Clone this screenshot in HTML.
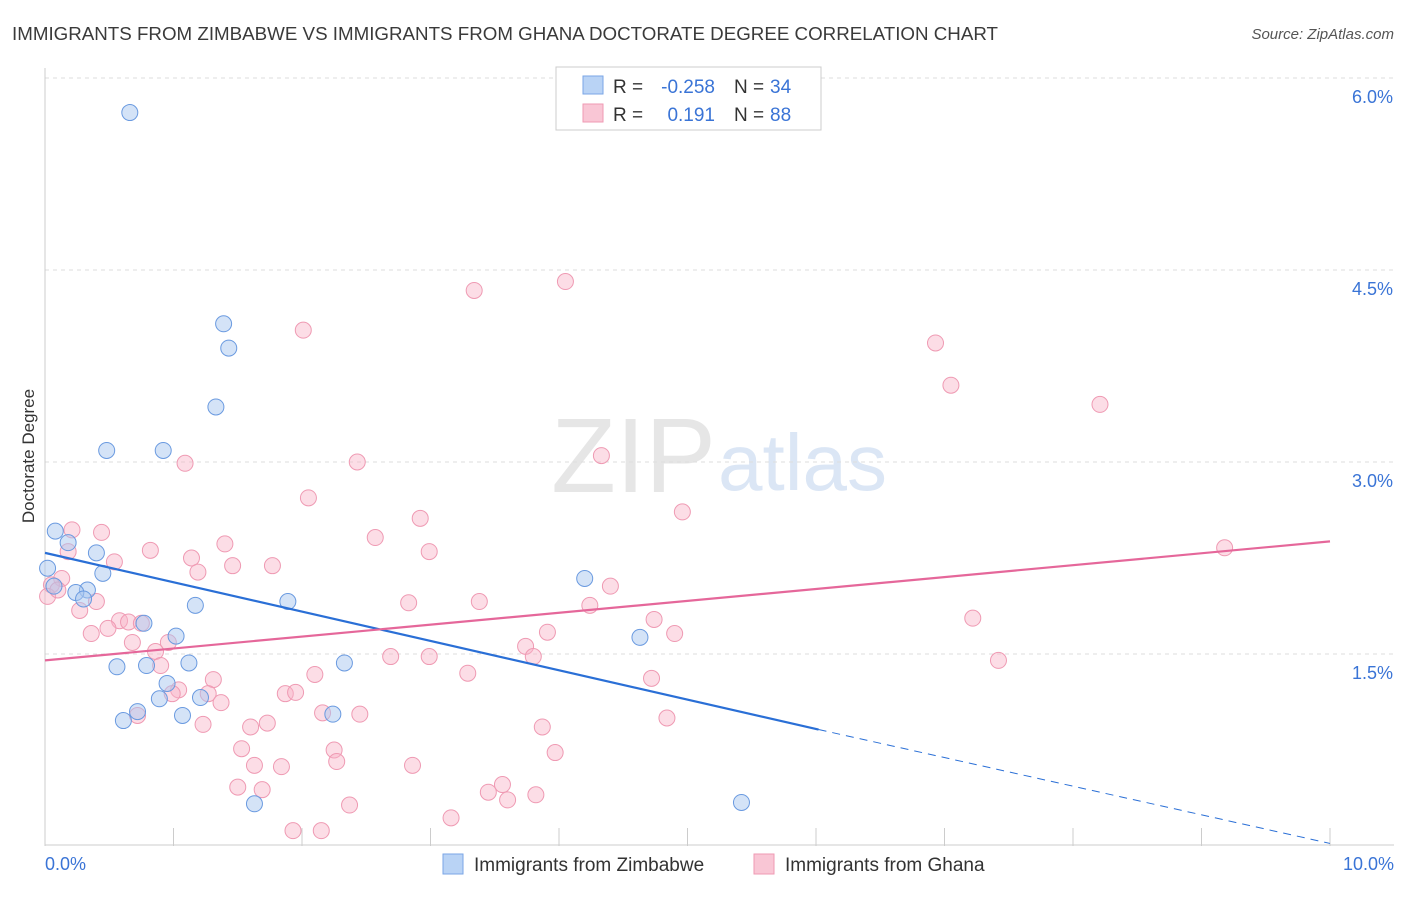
<!DOCTYPE html>
<html><head><meta charset="utf-8">
<style>
body{margin:0;background:#fff;font-family:"Liberation Sans",sans-serif;}
svg text{font-family:"Liberation Sans",sans-serif;}
</style></head>
<body>
<svg id="chart" width="1406" height="892" xmlns="http://www.w3.org/2000/svg">
<text x="12" y="40" font-size="18" fill="#3a3a3a" textLength="986" lengthAdjust="spacingAndGlyphs">IMMIGRANTS FROM ZIMBABWE VS IMMIGRANTS FROM GHANA DOCTORATE DEGREE CORRELATION CHART</text>
<text x="1394" y="39" font-size="15" fill="#555" font-style="italic" text-anchor="end">Source: ZipAtlas.com</text>
<text x="716" y="492" font-size="106" fill="#e6e6e6" text-anchor="end" font-family="Liberation Serif">ZIP</text>
<text x="718" y="490" font-size="80" fill="#dbe6f5">atlas</text>
<text transform="translate(34,456) rotate(-90)" font-size="17" fill="#333" text-anchor="middle">Doctorate Degree</text>
<g id="grid"></g>
<g id="marks"></g>
<g>
<rect x="556" y="67" width="265" height="63" fill="#fff" stroke="#ccc"/>
<rect x="583" y="76" width="20" height="18" fill="#b9d3f5" stroke="#7aa6e6"/>
<rect x="583" y="104" width="20" height="18" fill="#f9c6d5" stroke="#ef9ab3"/>
<text x="613" y="93" font-size="19" fill="#333">R =</text>
<text x="715" y="93" font-size="19" fill="#3a74d6" text-anchor="end">-0.258</text>
<text x="734" y="93" font-size="19" fill="#333">N =</text>
<text x="770" y="93" font-size="19" fill="#3a74d6">34</text>
<text x="613" y="121" font-size="19" fill="#333">R =</text>
<text x="715" y="121" font-size="19" fill="#3a74d6" text-anchor="end">0.191</text>
<text x="734" y="121" font-size="19" fill="#333">N =</text>
<text x="770" y="121" font-size="19" fill="#3a74d6">88</text>
</g>
<g>
<rect x="443" y="854" width="20" height="20" fill="#b9d3f5" stroke="#7aa6e6"/>
<text x="474" y="871" font-size="19" fill="#333">Immigrants from Zimbabwe</text>
<rect x="754" y="854" width="20" height="20" fill="#f9c6d5" stroke="#ef9ab3"/>
<text x="785" y="871" font-size="19" fill="#333">Immigrants from Ghana</text>
</g>
</svg>
<script>
const yTicks=[1.5,3.0,4.5,6.0];
const yTickLabels=["1.5%","3.0%","4.5%","6.0%"];
const xTickLabels=["0.0%","10.0%"];
const blueX=[0.66,1.39,1.43,1.33,0.48,0.92,0.08,0.18,0.40,0.45,0.33,0.24,0.30,1.17,1.89,0.77,1.02,0.56,0.79,1.12,2.33,0.95,0.89,1.21,0.72,0.61,1.07,2.24,1.63,4.20,4.63,5.42,0.02,0.07];
const blueY=[5.73,4.08,3.89,3.43,3.09,3.09,2.46,2.37,2.29,2.13,2.00,1.98,1.93,1.88,1.91,1.74,1.64,1.40,1.41,1.43,1.43,1.27,1.15,1.16,1.05,0.98,1.02,1.03,0.33,2.09,1.63,0.34,2.17,2.03];
const pinkX=[4.05,3.34,2.01,6.93,7.05,8.21,4.33,1.09,2.43,2.05,2.92,4.96,0.21,0.44,2.57,1.40,0.82,2.99,0.18,0.54,1.14,1.46,1.77,1.19,0.13,0.05,9.18,4.40,0.02,0.10,0.40,2.83,3.38,4.24,0.27,0.58,0.65,0.75,0.49,0.36,4.74,7.22,3.91,4.90,0.68,0.96,0.86,3.74,2.69,2.99,3.80,7.42,0.90,2.10,3.29,1.31,4.72,1.04,0.99,1.27,1.87,1.95,1.37,2.16,2.45,4.84,0.72,1.23,1.73,1.60,3.87,1.53,2.25,3.97,2.27,1.63,1.84,2.86,1.50,1.69,3.56,3.45,3.60,3.82,2.37,3.16,1.93,2.15];
const pinkY=[4.41,4.34,4.03,3.93,3.60,3.45,3.05,2.99,3.00,2.72,2.56,2.61,2.47,2.45,2.41,2.36,2.31,2.30,2.30,2.22,2.25,2.19,2.19,2.14,2.09,2.04,2.33,2.03,1.95,2.00,1.91,1.90,1.91,1.88,1.84,1.76,1.75,1.74,1.70,1.66,1.77,1.78,1.67,1.66,1.59,1.59,1.52,1.56,1.48,1.48,1.48,1.45,1.41,1.34,1.35,1.30,1.31,1.22,1.19,1.19,1.19,1.20,1.12,1.04,1.03,1.00,1.02,0.95,0.96,0.93,0.93,0.76,0.75,0.73,0.66,0.63,0.62,0.63,0.46,0.44,0.48,0.42,0.36,0.40,0.32,0.22,0.12,0.12];
const blueLine=[[0,2.29],[6.02,0.91]], blueDash=[[6.02,0.91],[10,0.02]];
const pinkLine=[[0,1.45],[10,2.38]];
const X0=45,X1=1330,Y0=846,PXPER=128;
const xs=v=>X0+(X1-X0)*v/10, ys=v=>Y0-v*PXPER;
const NS="http://www.w3.org/2000/svg";
const grid=document.getElementById('grid'),marks=document.getElementById('marks');
function mk(tag,attrs,parent){const e=document.createElementNS(NS,tag);for(const k in attrs)e.setAttribute(k,attrs[k]);parent.appendChild(e);return e;}
yTicks.forEach((t,i)=>{
 const l=mk('line',{x1:X0,x2:1394,y1:ys(t),y2:ys(t),stroke:'#ddd','stroke-dasharray':'4,4'},grid);
 
 
 const tx=mk('text',{x:1393,y:ys(t)+25,'font-size':18,fill:'#3a74d6','text-anchor':'end'},grid);
 tx.textContent=yTickLabels[i];
 
 
});
const ax=mk('line',{x1:X0,x2:1394,y1:Y0-1,y2:Y0-1,stroke:'#ccc'},grid);


const ay=mk('line',{x1:X0,x2:X0,y1:68,y2:Y0,stroke:'#ccc'},grid);


for(let i=1;i<=10;i++){const t=mk('line',{x1:X0+(X1-X0)*i/10,x2:X0+(X1-X0)*i/10,y1:Y0-18,y2:Y0,stroke:'#ccc'},grid);
 
 }
[[45,'start'],[1394,'end']].forEach((p,i)=>{const t=mk('text',{x:p[0],y:870,'font-size':18,fill:'#3a74d6','text-anchor':p[1]},grid);t.textContent=xTickLabels[i];
 
 });
pinkX.forEach((v,i)=>{const c=mk('circle',{cx:xs(v),cy:ys(pinkY[i]),r:8,fill:'rgba(248,180,200,0.45)',stroke:'#ef9ab3','stroke-width':1},marks);
 
 });
blueX.forEach((v,i)=>{const c=mk('circle',{cx:xs(v),cy:ys(blueY[i]),r:8,fill:'rgba(170,200,240,0.5)',stroke:'#6a9ae0','stroke-width':1},marks);
 
 });
const bl=mk('line',{x1:xs(blueLine[0][0]),y1:ys(blueLine[0][1]),x2:xs(blueLine[1][0]),y2:ys(blueLine[1][1]),stroke:'#2a6fd6','stroke-width':2.2},marks);


const bd=mk('line',{x1:xs(blueDash[0][0]),y1:ys(blueDash[0][1]),x2:xs(blueDash[1][0]),y2:ys(blueDash[1][1]),stroke:'#2a6fd6','stroke-width':1,'stroke-dasharray':'8,6'},marks);


const pl=mk('line',{x1:xs(pinkLine[0][0]),y1:ys(pinkLine[0][1]),x2:xs(pinkLine[1][0]),y2:ys(pinkLine[1][1]),stroke:'#e5679a','stroke-width':2.2},marks);


</script>
</body></html>
